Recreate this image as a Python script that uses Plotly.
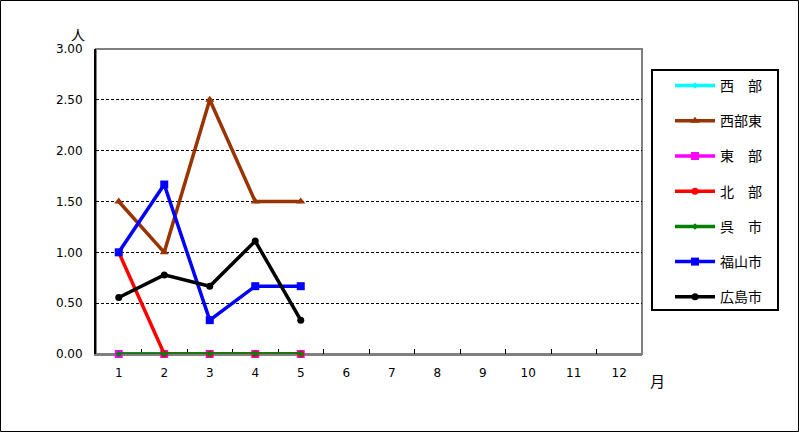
import plotly.graph_objects as go

months = [str(i) for i in range(1, 13)]
x_data = months[:5]

names = ["西　部", "西部東", "東　部", "北　部", "呉　市", "福山市", "広島市"]
seibu = [0, 0, 0, 0, 0]
seibu_higashi = [1.5, 1.0, 2.5, 1.5, 1.5]
higashi = [0, 0, 0, 0, 0]
hokubu = [1.0, 0, 0, 0, 0]
kure = [0, 0, 0, 0, 0]
fukuyama = [1.0, 1.667, 0.333, 0.667, 0.667]
hiroshima = [0.556, 0.778, 0.667, 1.111, 0.333]

series = [seibu, seibu_higashi, higashi, hokubu, kure, fukuyama, hiroshima]
colors = ["#00FFFF", "#993300", "#FF00FF", "#FF0000", "#008000", "#0000FF", "#000000"]
symbols = ["diamond", "triangle-up", "square", "circle", "diamond", "square", "circle"]
sizes = [5, 8, 8, 7, 5, 8, 7]

fig = go.Figure()
for i, (nm, vals) in enumerate(zip(names, series)):
    fig.add_trace(go.Scatter(
        x=x_data, y=vals, name=nm, mode="lines+markers",
        line=dict(color=colors[i], width=3.5),
        marker=dict(symbol=symbols[i], size=sizes[i], color=colors[i]),
        legendgroup=str(i),
        cliponaxis=False,
    ))

L, R, T, B = 96, 157, 49, 78
W, H = 799, 432
pw, ph = W - L - R, H - T - B

def px(x):
    return (x - L) / pw

def py(y):
    return (H - B - y) / ph

fig.update_layout(
    width=W, height=H,
    margin=dict(l=L, r=R, t=T, b=B, pad=0),
    paper_bgcolor="white", plot_bgcolor="white",
    font=dict(family="DejaVu Sans, sans-serif", size=12, color="black"),
    showlegend=True,
    legend=dict(
        x=px(670), y=py(70), xanchor="left", yanchor="top",
        borderwidth=0, bgcolor="rgba(0,0,0,0)",
        font=dict(family="Noto Sans CJK JP", size=14, color="black"),
        tracegroupgap=14,
        itemwidth=40,
    ),
    xaxis=dict(
        type="category", categoryorder="array", categoryarray=months,
        range=[-0.5, 11.5], tickson="boundaries", ticks="inside", ticklen=5,
        tickcolor="black", showline=True, linecolor="#808080", linewidth=2,
        showgrid=False, zeroline=False, tickfont=dict(size=12),
        ticklabelstandoff=7, fixedrange=True, layer="below traces",
    ),
    yaxis=dict(
        range=[0, 3], tickvals=[0, 0.5, 1, 1.5, 2, 2.5, 3], tickformat=".2f",
        showline=True, linecolor="black", linewidth=2, ticks="",
        showgrid=True, gridcolor="black", gridwidth=1, griddash="3px,2px",
        zeroline=False, tickfont=dict(size=12), ticklabelstandoff=9,
        layer="below traces", fixedrange=True,
    ),
    shapes=[
        dict(type="rect", xref="paper", yref="paper", x0=0, x1=1, y0=0, y1=1,
             line=dict(color="#808080", width=2), layer="below"),
        dict(type="rect", xref="paper", yref="paper",
             x0=px(0.5), x1=px(798.5), y0=py(431.5), y1=py(0.5),
             line=dict(color="black", width=1)),
        dict(type="rect", xref="paper", yref="paper",
             x0=px(652), x1=px(778), y0=py(310), y1=py(70),
             line=dict(color="black", width=2)),
    ],
    annotations=[
        dict(text="人", xref="paper", yref="paper", x=px(78), y=py(34),
             xanchor="center", yanchor="middle",
             showarrow=False, font=dict(family="Noto Sans CJK JP", size=14)),
        dict(text="月", xref="paper", yref="paper", x=px(657), y=py(380),
             xanchor="center", yanchor="middle",
             showarrow=False, font=dict(family="Noto Sans CJK JP", size=15)),
    ],
)

fig.write_html("out.html", config={"displayModeBar": False},
               post_script="document.body.style.margin='0';document.body.style.overflow='hidden';")
